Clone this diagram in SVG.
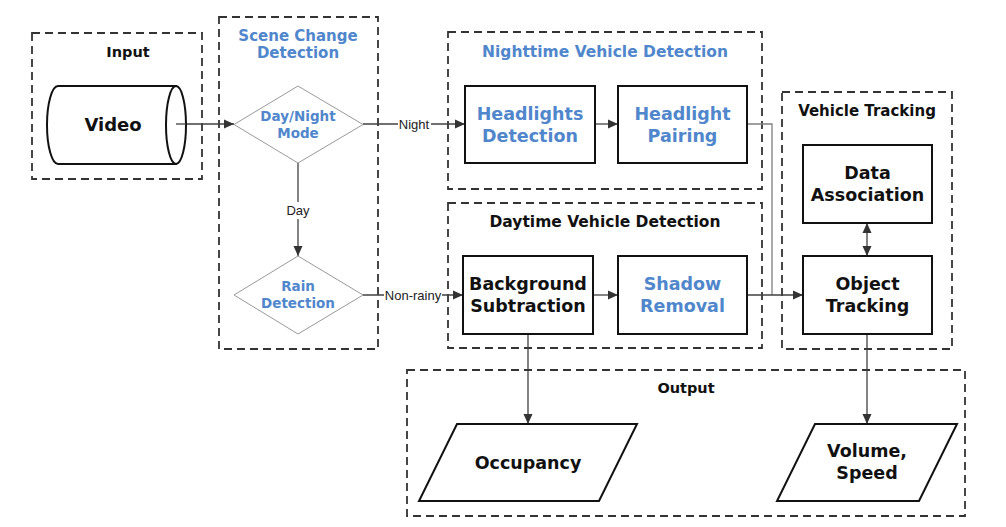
<svg xmlns="http://www.w3.org/2000/svg" width="1006" height="527" viewBox="0 0 1006 527">
<defs>
<marker id="ah" viewBox="0 0 10 10" refX="10" refY="5" markerWidth="10" markerHeight="10" markerUnits="userSpaceOnUse" orient="auto-start-reverse">
<path d="M0,0.5 L10,5 L0,9.5 z" fill="#333"/>
</marker>
</defs>
<style>
.grp{fill:none;stroke:#333;stroke-width:1.8;stroke-dasharray:8,5}
.box{fill:#fff;stroke:#111;stroke-width:2}
.dia{fill:#fff;stroke:#999;stroke-width:1}
.t{font-family:"DejaVu Sans",Verdana,sans-serif;font-weight:bold;text-anchor:middle;fill:#111}
.b{fill:#4f86cc}
.nt{font-size:17.5px}
.tt{font-size:15px}
.dt{font-size:13.5px}
.lbl{font-family:"Liberation Sans",Arial,sans-serif;font-size:13px;text-anchor:middle;fill:#222}
.c{fill:none;stroke:#404040;stroke-width:1.3}
.cg{fill:none;stroke:#808080;stroke-width:1.3}
.lb{fill:#fff}
</style>
<rect width="1006" height="527" fill="#fff"/>

<g id="group-input">
<rect class="grp" x="32" y="33" width="170" height="146"/>
<text class="t tt" x="128" y="57" style="font-size:14.5px">Input</text>
</g>
<g id="group-scene">
<rect class="grp" x="219" y="17" width="159" height="332"/>
<text class="t tt b" x="298" y="41">Scene Change</text>
<text class="t tt b" x="298" y="58">Detection</text>
</g>
<g id="group-night">
<rect class="grp" x="448" y="32" width="314" height="157"/>
<text class="t tt b" x="605" y="57" style="font-size:15.5px">Nighttime Vehicle Detection</text>
</g>
<g id="group-day">
<rect class="grp" x="448" y="203" width="314" height="145"/>
<text class="t tt" x="605" y="227" style="font-size:15.5px">Daytime Vehicle Detection</text>
</g>
<g id="group-tracking">
<rect class="grp" x="782" y="92" width="170" height="257"/>
<text class="t tt" x="867" y="116">Vehicle Tracking</text>
</g>
<g id="group-output">
<rect class="grp" x="407" y="370" width="558" height="146"/>
<text class="t tt" x="686" y="393" style="font-size:14.5px">Output</text>
</g>

<g id="connectors">
<line class="c" x1="176" y1="124" x2="234" y2="124" marker-end="url(#ah)"/>
<line class="c" x1="363" y1="124" x2="465" y2="124" marker-end="url(#ah)"/>
<rect class="lb" x="398" y="116" width="33" height="16"/>
<text class="lbl" x="414" y="129">Night</text>
<line class="c" x1="298" y1="163" x2="298" y2="256" marker-end="url(#ah)"/>
<rect class="lb" x="285" y="202" width="26" height="17"/>
<text class="lbl" x="298" y="215">Day</text>
<line class="c" x1="363" y1="295" x2="463" y2="295" marker-end="url(#ah)"/>
<rect class="lb" x="384" y="287" width="58" height="16"/>
<text class="lbl" x="413" y="300">Non-rainy</text>
<line class="c" x1="595" y1="124" x2="618" y2="124" marker-end="url(#ah)"/>
<line class="c" x1="593" y1="295" x2="618" y2="295" marker-end="url(#ah)"/>
<polyline class="cg" points="747,124 772,124 772,295"/>
<line class="c" x1="747" y1="295" x2="803" y2="295" marker-end="url(#ah)"/>
<line class="c" x1="867" y1="223" x2="867" y2="256" marker-start="url(#ah)" marker-end="url(#ah)"/>
<line class="c" x1="528" y1="334" x2="528" y2="424" marker-end="url(#ah)"/>
<line class="c" x1="867" y1="334" x2="867" y2="424" marker-end="url(#ah)"/>
</g>

<g id="node-video">
<path class="box" d="M58,86 L176,86 L176,164 L58,164 A11,39 0 0 1 58,86 Z"/>
<ellipse class="box" cx="176" cy="125" rx="10" ry="39" fill="none"/>
<line class="c" x1="176" y1="124" x2="186" y2="124"/>
<text class="t" x="113" y="131" style="font-size:18px">Video</text>
</g>

<g id="node-daynight">
<polygon class="dia" points="298,86 363,124.5 298,163 234,124.5"/>
<text class="t dt b" x="298" y="121">Day/Night</text>
<text class="t dt b" x="298" y="138">Mode</text>
</g>
<g id="node-rain">
<polygon class="dia" points="298,256 363,295 298,334 234,295"/>
<text class="t dt b" x="298" y="291">Rain</text>
<text class="t dt b" x="298" y="308">Detection</text>
</g>

<g id="node-headlights">
<rect class="box" x="465" y="86" width="130" height="77"/>
<text class="t nt b" x="530" y="120">Headlights</text>
<text class="t nt b" x="530" y="142">Detection</text>
</g>
<g id="node-pairing">
<rect class="box" x="618" y="86" width="129" height="77"/>
<text class="t nt b" x="682.5" y="120">Headlight</text>
<text class="t nt b" x="682.5" y="142">Pairing</text>
</g>
<g id="node-background">
<rect class="box" x="463" y="256" width="130" height="78"/>
<text class="t nt" x="528" y="290">Background</text>
<text class="t nt" x="528" y="312">Subtraction</text>
</g>
<g id="node-shadow">
<rect class="box" x="618" y="256" width="129" height="78"/>
<text class="t nt b" x="682.5" y="290">Shadow</text>
<text class="t nt b" x="682.5" y="312">Removal</text>
</g>
<g id="node-data">
<rect class="box" x="803" y="145" width="129" height="78"/>
<text class="t nt" x="867.5" y="179">Data</text>
<text class="t nt" x="867.5" y="201">Association</text>
</g>
<g id="node-object">
<rect class="box" x="803" y="256" width="129" height="78"/>
<text class="t nt" x="867.5" y="290">Object</text>
<text class="t nt" x="867.5" y="312">Tracking</text>
</g>
<g id="node-occupancy">
<polygon class="box" points="457,424 637,424 599,501 419,501"/>
<text class="t nt" x="528" y="468.5">Occupancy</text>
</g>
<g id="node-volume">
<polygon class="box" points="815,424 957,424 919,501 777,501"/>
<text class="t nt" x="867" y="457">Volume,</text>
<text class="t nt" x="867" y="479">Speed</text>
</g>
</svg>
